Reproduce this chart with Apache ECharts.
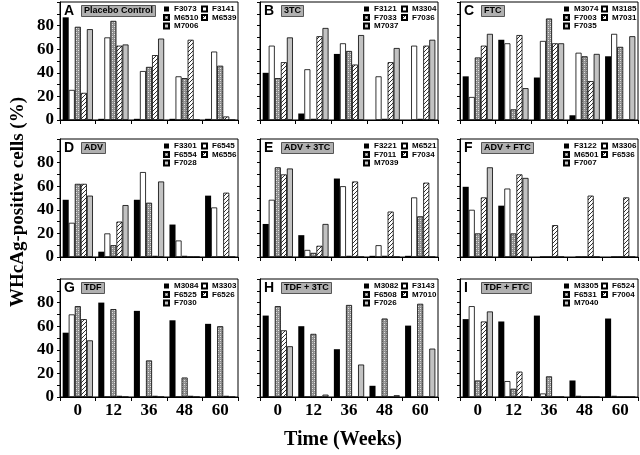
<!DOCTYPE html>
<html>
<head>
<meta charset="utf-8">
<script src="https://cdn.jsdelivr.net/npm/echarts@6/dist/echarts.min.js"></script>
<style>
  html, body { margin: 0; padding: 0; background: #fff; }
  #main { width: 640px; height: 455px; }
</style>
</head>
<body>
<div id="main"></div>
<script>
// week categories and y tick labels
const weeks = ['0', '12', '36', '48', '60'];
const yTicks = [0, 20, 40, 60, 80];
const letters = ['A', 'B', 'C', 'D', 'E', 'F', 'G', 'H', 'I'];
const treatments = ['Placebo Control', '3TC', 'FTC', 'ADV', 'ADV + 3TC', 'ADV + FTC', 'TDF', 'TDF + 3TC', 'TDF + FTC'];

// each panel: 5 animals, values per week (%)
const animalsA = ['F3073', 'F3141', 'M6510', 'M6539', 'M7006'];
const valuesA = [
  [87, 1, 1, 1, 1],
  [25.5, 70, 41.5, 37, 58],
  [79, 84, 45, 35.5, 46],
  [23, 63, 55, 68, 3],
  [77, 64, 69, 0, 0]
];
const animalsB = ['F3121', 'M3304', 'F7033', 'F7036', 'M7037'];
const valuesB = [
  [40, 5.5, 56, 0, 0],
  [63, 43, 65, 37, 63],
  [35.5, 1, 58.5, 1, 1],
  [49, 71, 47, 49, 63],
  [70, 78, 72, 61, 68]
];
const animalsC = ['M3074', 'M3185', 'F7003', 'M7031', 'F7035'];
const valuesC = [
  [37, 68, 36, 4, 54],
  [19.5, 65, 67, 57, 73],
  [53, 9, 86, 54, 62],
  [63, 72, 65, 33, 0],
  [73, 27, 65, 56, 71]
];
const animalsD = ['F3301', 'F6545', 'F6554', 'M6556', 'F7028'];
const valuesD = [
  [48.5, 4.5, 48.5, 27.5, 52],
  [29, 20, 72, 14, 42],
  [62, 10, 46, 1, 0],
  [62, 30, 1, 0, 54.5],
  [52, 44, 64, 0, 0]
];
const animalsE = ['F3221', 'M6521', 'F7011', 'F7034', 'M7039'];
const valuesE = [
  [28, 18.5, 66.5, 1, 1],
  [48.5, 6, 60, 10, 50.5],
  [76, 3.5, 1, 1, 34.5],
  [70, 9.5, 64, 38.5, 63],
  [75, 28, 0, 0, 0]
];
const animalsF = ['F3122', 'M3306', 'M6501', 'F6536', 'F7007'];
const valuesF = [
  [59.5, 43.5, 0, 0, 0],
  [40, 58, 0, 0, 0],
  [20, 20, 0, 0, 0],
  [50.5, 70, 27, 52, 50.5],
  [76, 67, 0, 0, 0]
];
const animalsG = ['M3084', 'M3303', 'F6525', 'F6526', 'F7030'];
const valuesG = [
  [54.5, 80, 73, 65, 62],
  [70, 0, 0, 0, 0],
  [77, 74.5, 31, 16.5, 60],
  [66, 1, 1, 1, 1],
  [48, 0, 0, 0, 0]
];
const animalsH = ['M3082', 'F3143', 'F6508', 'M7010', 'F7026'];
const valuesH = [
  [69, 60, 40.5, 9.5, 60.5],
  [0, 0, 0, 0, 0],
  [77, 53.5, 78, 66.5, 79],
  [56.5, 0, 0, 0, 0],
  [43, 2, 27.5, 1.5, 41]
];
const animalsI = ['M3305', 'F6524', 'F6531', 'F7004', 'M7040'];
const valuesI = [
  [66, 64, 69, 14, 66.5],
  [77, 13.5, 3, 1, 1],
  [14, 7, 17.5, 0, 0],
  [64, 21.5, 0, 0, 0],
  [72.5, 0, 0, 0, 0]
];

const animals = [animalsA, animalsB, animalsC, animalsD, animalsE, animalsF, animalsG, animalsH, animalsI];
const values = [valuesA, valuesB, valuesC, valuesD, valuesE, valuesF, valuesG, valuesH, valuesI];

// fill patterns
function makePattern(draw) {
  const c = document.createElement('canvas');
  c.width = 4; c.height = 4;
  const ctx = c.getContext('2d');
  draw(ctx);
  return { image: c, repeat: 'repeat' };
}
const stipple = makePattern(function (ctx) {
  ctx.fillStyle = '#8c8c8c'; ctx.fillRect(0, 0, 4, 4);
  ctx.fillStyle = '#e6e6e6'; ctx.fillRect(0, 0, 1, 1); ctx.fillRect(2, 2, 1, 1);
  ctx.fillStyle = '#bdbdbd'; ctx.fillRect(2, 0, 1, 1); ctx.fillRect(0, 2, 1, 1);
});
const hatch = makePattern(function (ctx) {
  ctx.fillStyle = '#fff'; ctx.fillRect(0, 0, 4, 4);
  ctx.fillStyle = '#333';
  ctx.fillRect(3, 0, 1, 1); ctx.fillRect(2, 1, 1, 1); ctx.fillRect(1, 2, 1, 1); ctx.fillRect(0, 3, 1, 1);
});
const fills = ['#000', '#fff', stipple, hatch, '#c2c2c2'];

const colLeft = [60, 260, 460];
const rowTop = [2, 139, 279];
const panelW = 178;
const panelH = 118;
const serif = 'Liberation Serif';
const sans = 'Liberation Sans';

const grids = [], xAxes = [], yAxes = [], series = [], legends = [], titles = [];

for (let p = 0; p < 9; p++) {
  const col = p % 3, row = Math.floor(p / 3);
  const left = colLeft[col], top = rowTop[row];
  grids.push({ left: left, top: top, width: panelW, height: panelH, show: true, borderColor: '#000', borderWidth: 1, backgroundColor: 'transparent' });
  xAxes.push({
    type: 'category', gridIndex: p, data: weeks,
    axisLine: { lineStyle: { color: '#000', width: 1 } },
    axisTick: { show: true, length: 4, lineStyle: { color: '#000' } },
    axisLabel: { show: row === 2, color: '#000', fontFamily: serif, fontWeight: 'bold', fontSize: 17, margin: 5 }
  });
  yAxes.push({
    type: 'value', gridIndex: p, min: 0, max: 100, interval: 10,
    axisLine: { show: true, lineStyle: { color: '#000', width: 1 } },
    axisTick: { show: true, length: 3, lineStyle: { color: '#000' } },
    splitLine: { show: false },
    axisLabel: {
      show: col === 0, color: '#000', fontFamily: serif, fontWeight: 'bold', fontSize: 17, margin: 6,
      formatter: function (v) { return yTicks.indexOf(v) >= 0 ? String(v) : ''; }
    }
  });
  for (let s = 0; s < 5; s++) {
    series.push({
      type: 'bar', name: animals[p][s], xAxisIndex: p, yAxisIndex: p,
      data: values[p][s], barGap: '0%', barCategoryGap: '15%',
      itemStyle: { color: fills[s], borderColor: '#000', borderWidth: s === 0 ? 0 : 0.8 },
      animation: false, silent: true
    });
  }
  const legendBase = {
    orient: 'vertical', top: top + 3, padding: 0, itemGap: 0.5,
    itemWidth: 5, itemHeight: 5, icon: 'rect', selectedMode: false,
    textStyle: { fontFamily: sans, fontWeight: 'bold', fontSize: 8, lineHeight: 7, color: '#000' }
  };
  legends.push(Object.assign({}, legendBase, { left: left + 103, data: [animals[p][0], animals[p][2], animals[p][4]] }));
  legends.push(Object.assign({}, legendBase, { left: left + 141, data: [animals[p][1], animals[p][3]] }));
  titles.push({
    text: letters[p], left: left + 4, top: top + 3, padding: 0,
    textStyle: { fontFamily: sans, fontWeight: 'bold', fontSize: 14, color: '#000', lineHeight: 12 }
  });
  titles.push({
    text: treatments[p], left: left + 21, top: top + 4, padding: [1, 3, 1, 3],
    backgroundColor: '#b0b0b0', borderColor: '#555', borderWidth: 1,
    textStyle: { fontFamily: sans, fontWeight: 'bold', fontSize: 9, color: '#000', lineHeight: 8 }
  });
}

const chart = echarts.init(document.getElementById('main'), null, { renderer: 'canvas' });
chart.setOption({
  animation: false,
  backgroundColor: '#fff',
  title: titles,
  legend: legends,
  grid: grids,
  xAxis: xAxes,
  yAxis: yAxes,
  series: series,
  graphic: [
    {
      type: 'text', x: 18, y: 202, rotation: Math.PI / 2,
      style: { text: 'WHcAg-positive cells (%)', font: 'bold 19px "Liberation Serif"', fill: '#000', align: 'center', verticalAlign: 'middle' }
    },
    {
      type: 'text', x: 343, y: 440,
      style: { text: 'Time (Weeks)', font: 'bold 20px "Liberation Serif"', fill: '#000', align: 'center', verticalAlign: 'middle' }
    }
  ]
});
</script>
</body>
</html>
